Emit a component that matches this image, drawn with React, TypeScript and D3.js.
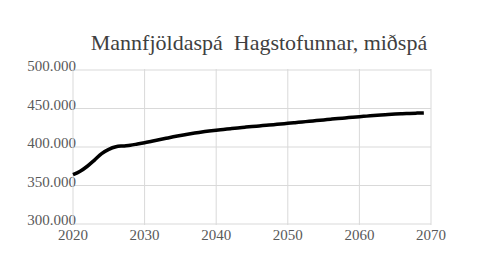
import React from "react";
import * as d3 from "d3";

const TITLE = "Mannfjöldaspá  Hagstofunnar, miðspá";
const years = [
  2020, 2021, 2022, 2023, 2024, 2025, 2026, 2027, 2028, 2029,
  2030, 2031, 2032, 2033, 2034, 2035, 2036, 2037, 2038, 2039,
  2040, 2041, 2042, 2043, 2044, 2045, 2046, 2047, 2048, 2049,
  2050, 2051, 2052, 2053, 2054, 2055, 2056, 2057, 2058, 2059,
  2060, 2061, 2062, 2063, 2064, 2065, 2066, 2067, 2068, 2069,
];
const population = [
  364000, 368500, 375000, 383000, 391500, 397000, 400300, 401400, 402300, 403900,
  405600, 407500, 409400, 411300, 413200, 415000, 416600, 418100, 419500, 420700,
  421800, 422800, 423800, 424800, 425700, 426600, 427400, 428200, 429000, 429900,
  430700, 431600, 432500, 433400, 434300, 435200, 436100, 437000, 437800, 438600,
  439400, 440100, 440800, 441500, 442100, 442700, 443200, 443600, 444000, 444300,
];
const xTicks = [2020, 2030, 2040, 2050, 2060, 2070];
const yTicks = [300000, 350000, 400000, 450000, 500000];

const W = 500;
const H = 278;

export default function App() {
  const x = d3.scaleLinear().domain([2020, 2070]).range([73, 431]);
  const y = d3.scaleLinear().domain([300000, 500000]).range([224, 70]);
  const fmt = (v: number) => d3.format(",")(v).replace(/,/g, ".");
  const line = d3
    .line<number>()
    .x((_, i) => x(years[i]))
    .y((d) => y(d))
    .curve(d3.curveMonotoneX);
  const font = "'Liberation Serif', 'Times New Roman', serif";
  const grid = "#d9d9d9";
  return (
    <svg
      width={W}
      height={H}
      style={{ position: "absolute", left: 0, top: 0, background: "#fff" }}
    >
      <text
        x={259}
        y={50}
        textAnchor="middle"
        fontFamily={font}
        fontSize={22}
        fill="#404040"
        style={{ whiteSpace: "pre" }}
      >
        {TITLE}
      </text>
      {yTicks.map((t) => (
        <g key={t}>
          <line x1={x(2020)} x2={x(2070)} y1={y(t)} y2={y(t)} stroke={grid} strokeWidth={1} />
          <text
            x={76}
            y={y(t) + 1}
            textAnchor="end"
            fontFamily={font}
            fontSize={15}
            fill="#595959"
          >
            {fmt(t)}
          </text>
        </g>
      ))}
      {xTicks.map((t) => (
        <g key={t}>
          <line x1={x(t)} x2={x(t)} y1={y(500000) - 1} y2={y(300000) + 1} stroke={grid} strokeWidth={1} />
          <text
            x={x(t)}
            y={240}
            textAnchor="middle"
            fontFamily={font}
            fontSize={15}
            fill="#595959"
          >
            {t}
          </text>
        </g>
      ))}
      <path
        d={line(population) || ""}
        fill="none"
        stroke="#000"
        strokeWidth={3.5}
        strokeLinejoin="round"
      />
    </svg>
  );
}
